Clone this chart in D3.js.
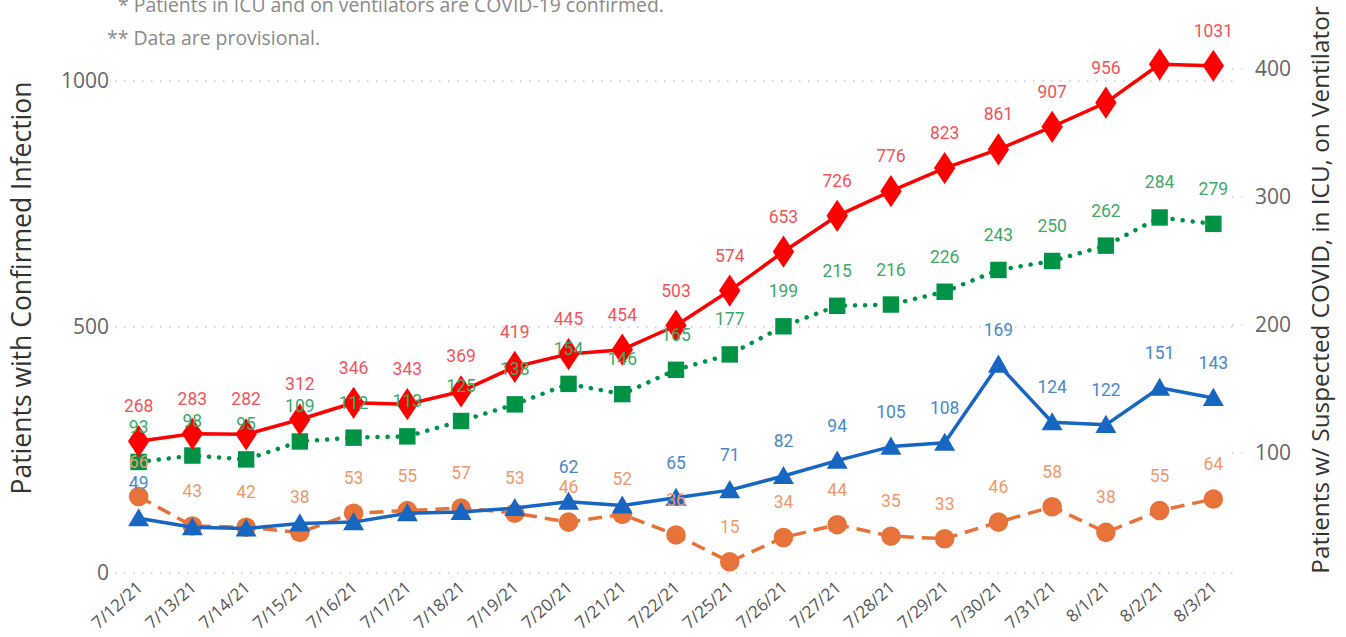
<!DOCTYPE html>
<html>
<head>
<meta charset="utf-8">
<script src="https://cdn.jsdelivr.net/npm/d3@7"></script>
<style>
  body { margin: 0; background: #fff; }
  svg { display: block; }
  .note { font-family: "Open Sans", "Noto Sans", sans-serif; font-size: 19.4px; fill: #8a8a8a; }
  .tick-label { font-family: "Open Sans", "Noto Sans", sans-serif; font-size: 21px; fill: #666; }
  .x-label { font-family: "Open Sans", "Noto Sans", sans-serif; font-size: 17px; fill: #555; }
  .axis-title { font-family: "Open Sans", "Noto Sans", sans-serif; fill: #333; }
  .data-label { font-family: Roboto, "Liberation Sans", sans-serif; font-size: 17.5px; text-anchor: middle; }
</style>
</head>
<body>
<div id="chart"></div>
<script>
// chart values
var dates = ['7/12/21', '7/13/21', '7/14/21', '7/15/21', '7/16/21', '7/17/21', '7/18/21',
    '7/19/21', '7/20/21', '7/21/21', '7/22/21', '7/25/21', '7/26/21', '7/27/21', '7/28/21',
    '7/29/21', '7/30/21', '7/31/21', '8/1/21', '8/2/21', '8/3/21'];
var confirmed = [268, 283, 282, 312, 346, 343, 369, 419, 445, 454, 503, 574, 653, 726, 776, 823, 861, 907, 956, 1034, 1031];
var suspected = [93, 98, 95, 109, 112, 113, 125, 138, 154, 146, 165, 177, 199, 215, 216, 226, 243, 250, 262, 284, 279];
var inIcu = [49, 42, 41, 45, 46, 53, 54, 57, 62, 59, 65, 71, 82, 94, 105, 108, 169, 124, 122, 151, 143];
var onVent = [66, 43, 42, 38, 53, 55, 57, 53, 46, 52, 36, 15, 34, 44, 35, 33, 46, 58, 38, 55, 64];
// labels the original hides because they collide
var confirmedHidden = [19];
var inIcuHidden = [1, 2, 3, 4, 5, 6, 7, 9];
var leftTicks = [0, 500, 1000];
var rightTicks = [100, 200, 300, 400];

var width = 1346, height = 637;

var svg = d3.select('#chart').append('svg')
    .attr('width', width)
    .attr('height', height);

var x = d3.scalePoint().domain(dates).range([115, 1237]).padding(0.44);
var yLeft = d3.scaleLinear().domain([0, 1000]).range([573, 81]);
var yRight = d3.scaleLinear().domain([0, 400]).range([581, 69]);

// notes at the top (first one is clipped by the top edge, as in the original)
svg.append('text').attr('class', 'note').attr('x', 118).attr('y', 12)
    .text('* Patients in ICU and on ventilators are COVID-19 confirmed.');
svg.append('text').attr('class', 'note').attr('x', 107).attr('y', 45)
    .text('** Data are provisional.');

// left gridlines + labels
svg.append('g').selectAll('line').data(leftTicks).enter().append('line')
    .attr('x1', 115).attr('x2', 1237)
    .attr('y1', d => yLeft(d)).attr('y2', d => yLeft(d))
    .attr('stroke', '#c8c8c8').attr('stroke-width', 1.5)
    .attr('stroke-dasharray', '1.5,7.5');
svg.append('g').selectAll('text').data(leftTicks).enter().append('text')
    .attr('class', 'tick-label')
    .attr('x', 109).attr('y', d => yLeft(d)).attr('dy', '0.35em')
    .attr('text-anchor', 'end')
    .text(d => d);

// right ticks (tiny dotted stubs) + labels
svg.append('g').selectAll('line').data(rightTicks).enter().append('line')
    .attr('x1', 1232).attr('x2', 1242)
    .attr('y1', d => yRight(d)).attr('y2', d => yRight(d))
    .attr('stroke', '#c8c8c8').attr('stroke-width', 1.5)
    .attr('stroke-dasharray', '1.5,7.5');
svg.append('g').selectAll('text').data(rightTicks).enter().append('text')
    .attr('class', 'tick-label')
    .attr('x', 1255).attr('y', d => yRight(d)).attr('dy', '0.35em')
    .text(d => d);

// x labels
svg.append('g').selectAll('text').data(dates).enter().append('text')
    .attr('class', 'x-label')
    .attr('text-anchor', 'end')
    .attr('transform', d => 'translate(' + (x(d) + 5) + ',' + 589 + ') rotate(-42)')
    .text(d => d);

// axis titles
svg.append('text').attr('class', 'axis-title')
    .attr('transform', 'translate(31,288) rotate(-90)')
    .attr('text-anchor', 'middle')
    .style('font-size', '26.5px')
    .text('Patients with Confirmed Infection');
svg.append('text').attr('class', 'axis-title')
    .attr('transform', 'translate(1329,290) rotate(-90)')
    .attr('text-anchor', 'middle')
    .style('font-size', '24.3px')
    .text('Patients w/ Suspected COVID, in ICU, on Ventilator');

var series = [
    { values: onVent, y: yRight, color: '#e8733a', labelColor: '#ef9a6c', dash: '14,8', cap: 'butt', symbol: d3.symbolCircle, size: 300, hidden: [] },
    { values: inIcu, y: yRight, color: '#1767c2', labelColor: '#4a88cc', dash: null, cap: 'round', symbol: d3.symbolTriangle, size: 190, hidden: inIcuHidden },
    { values: suspected, y: yRight, color: '#009245', labelColor: '#3daa68', dash: '0.1,10', cap: 'round', symbol: d3.symbolSquare, size: 270, hidden: [] },
    { values: confirmed, y: yLeft, color: '#ff0000', labelColor: '#f2545a', dash: null, cap: 'round', symbol: d3.symbolDiamond, size: 300, hidden: confirmedHidden }
];

var lineG = svg.append('g');
var labelG = svg.append('g');

series.forEach(function(s) {
    var pts = dates.map((d, i) => ({ date: d, v: s.values[i], i: i }));
    var line = d3.line().x(d => x(d.date)).y(d => s.y(d.v));

    lineG.append('path')
        .datum(pts)
        .attr('d', line)
        .attr('fill', 'none')
        .attr('stroke', s.color)
        .attr('stroke-width', s.dash === '0.1,10' ? 4.5 : 3.5)
        .attr('stroke-linecap', s.cap)
        .attr('stroke-linejoin', 'round')
        .attr('stroke-dasharray', s.dash);

    lineG.append('g').selectAll('path').data(pts).enter().append('path')
        .attr('d', d3.symbol().type(s.symbol).size(s.size))
        .attr('transform', d => 'translate(' + x(d.date) + ',' + (s.y(d.v) + (s.symbol === d3.symbolTriangle ? 2 : 0)) + ')' + (s.symbol === d3.symbolDiamond ? ' scale(1.15,1)' : ''))
        .attr('fill', s.color);

    labelG.append('g').selectAll('text')
        .data(pts.filter(d => s.hidden.indexOf(d.i) < 0))
        .enter().append('text')
        .attr('class', 'data-label')
        .attr('x', d => x(d.date))
        .attr('y', d => s.y(d.v) - 29)
        .attr('fill', s.labelColor)
        .text(d => d.v);
});
</script>
</body>
</html>
